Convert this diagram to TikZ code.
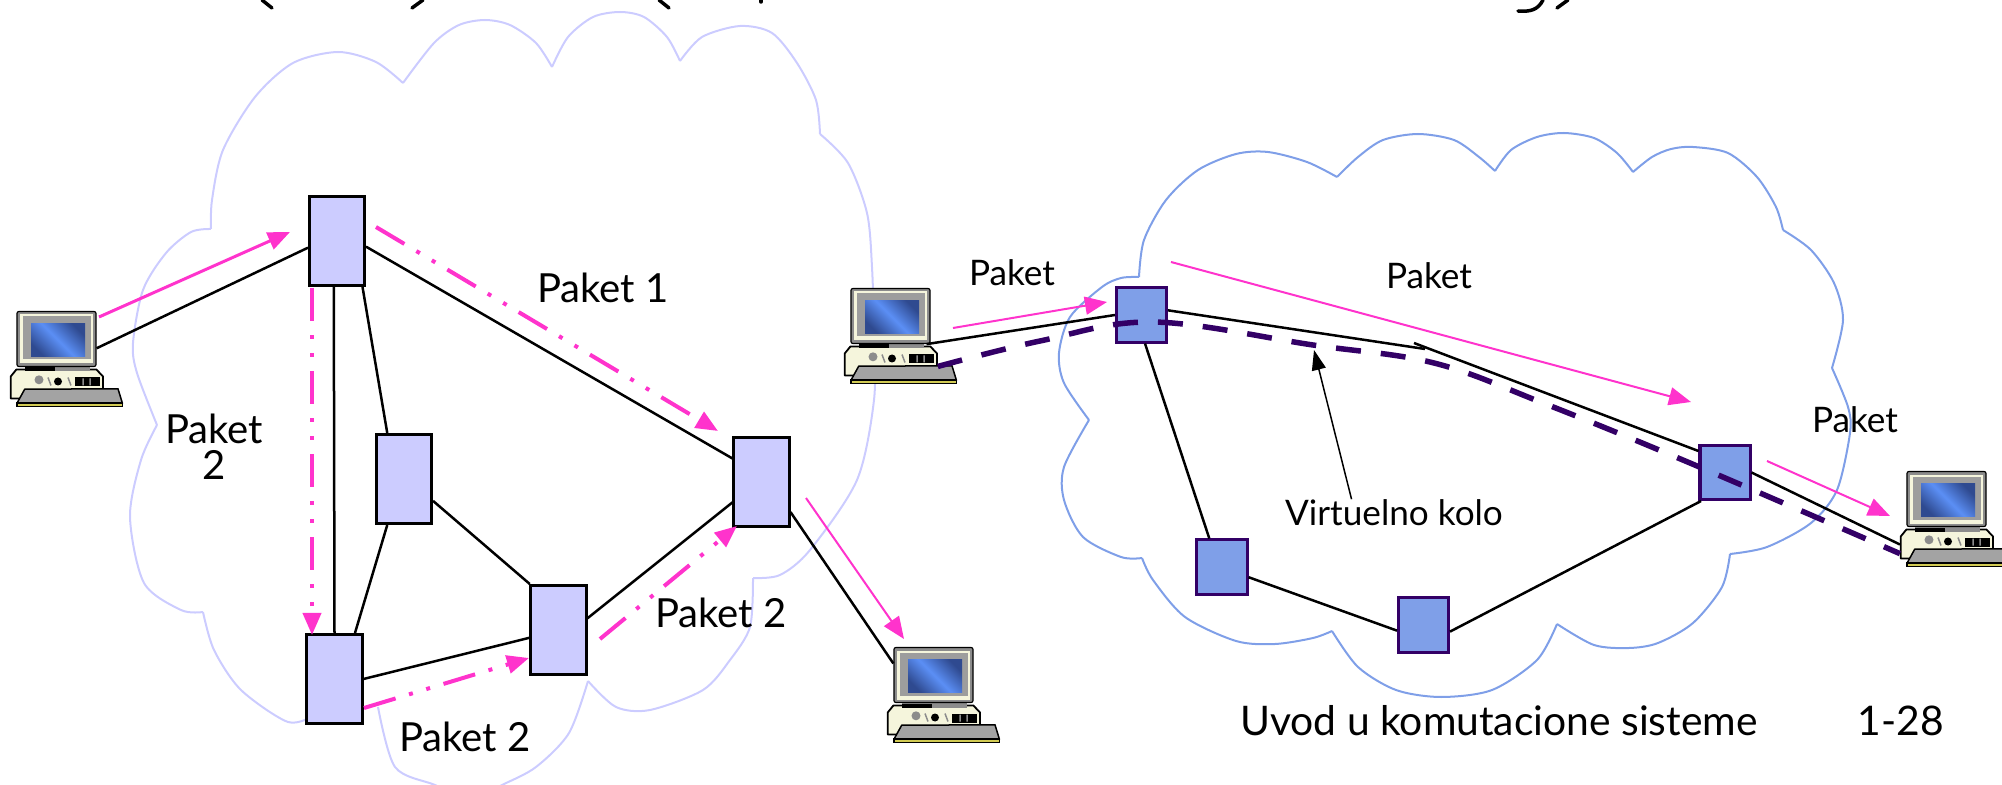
\documentclass[tikz,border=0pt]{standalone}
\usepackage{fontspec}
\setmainfont{Lato}
\usetikzlibrary{arrows.meta}
\definecolor{roze}{HTML}{FF33CC}
\definecolor{ljub}{HTML}{330066}
\definecolor{svetla}{HTML}{CCCCFF}
\definecolor{plava}{HTML}{7F9FE8}
\definecolor{krem}{HTML}{F5F5DC}
\definecolor{tamno}{HTML}{2F4A90}
\definecolor{sjaj}{HTML}{5B8FF5}
\definecolor{siva}{HTML}{8C8C8C}
\tikzset{
  ruter/.style={draw=black,fill=svetla,line width=0.03cm,inner sep=0pt,minimum width=0.55cm,minimum height=0.89cm},
  kvadrat/.style={draw=ljub,fill=plava,line width=0.03cm,inner sep=0pt,minimum width=0.5cm,minimum height=0.54cm},
  veza/.style={black,line width=0.025cm},
  oblak/.style={line width=0.02cm},
  roza/.style={roze,line width=0.03cm,-{Triangle[length=0.22cm,width=0.18cm]}},
  tanka/.style={roza,line width=0.02cm},
  tacke/.style={roza,line width=0.04cm,dash pattern=on 0.33cm off 0.14cm on 0.04cm off 0.14cm on 0.04cm off 0.14cm},
  kolo/.style={ljub,line width=0.055cm,dash pattern=on 0.25cm off 0.2cm},
  tekst/.style={inner sep=0pt,font=\fontsize{10}{12}\selectfont},
  vtekst/.style={inner sep=0pt,font=\fontsize{11.4}{12}\selectfont},
  dtekst/.style={inner sep=0pt,font=\fontsize{11.6}{12}\selectfont},
  naslov/.style={black,line width=0.035cm,line cap=round},
  ekran/.style={draw=black,fill=siva,line width=0.012cm,inner sep=0pt,minimum width=0.79cm,minimum height=0.55cm,rounded corners=0.02cm},
  kutija/.style={inner sep=0pt,minimum width=0.925cm,minimum height=0.3cm}
}
\newcommand{\racunar}[2]{
  \begin{scope}[shift={#2}]
    \draw[fill=krem,line width=0.018cm,line join=round] (-0.6,58) -- (-6.3,65) -- (-6.3,87) -- (86,87) -- (86,65) -- (79.4,58) -- cycle;
    \node[kutija] (#1k) at (39.9,73) {};
    \fill[black] (57.7,66) rectangle (82.7,75);
    \fill[siva] (22,68.3) circle (4.5);
    \fill[black] (41,70) circle (4);
    \draw[siva,line width=0.015cm] (31,66) -- (34,74) (51,66) -- (54,74) (66,67) -- (66,74) (73,67) -- (73,74);
    \fill[siva] (8,55) rectangle (73,60);
    \fill[black] (8,56) rectangle (38,60);
    \draw[fill=siva!80!white,line width=0.015cm,line join=round] (7.7,77.7) -- (101,77.3) -- (105.4,91.7) -- (0,91.7) -- cycle;
    \draw[fill=yellow!60!gray,line width=0.015cm] (0,91.7) rectangle (105.4,95);
    \node[ekran] (#1) at (39.5,27.5) {};
    \fill[krem] (3,3) rectangle (76,52);
    \fill[siva!85!white] (6,5) rectangle (74,48);
    \shade[left color=tamno,right color=tamno,middle color=sjaj,shading angle=135] (14,12) rectangle (68,45);
  \end{scope}
}
\begin{document}
\begin{tikzpicture}[x=0.01cm,y=-0.01cm]

    \useasboundingbox (0,0) rectangle (2002,785);

    \draw[naslov] (262,0) -- (272,8);
    \draw[naslov] (423,0) -- (412,8);
    \draw[naslov] (659,0) -- (669,8);
    \draw[naslov] (761,0) -- (761,2);
    \draw[naslov] (1543,0) .. controls (1538,10) and (1530,12) .. (1518,11);
    \draw[naslov] (1568,0) -- (1557,8);

    \draw[oblak,svetla] plot[smooth] coordinates {(403,83) (376,62) (338,52) (293,63) (255,97) (223,150) (212,200) (211,229)};
    \draw[oblak,svetla] plot[smooth] coordinates {(403,83) (434,43) (459,25) (485,20) (510,25) (536,43) (552,67)};
    \draw[oblak,svetla] plot[smooth] coordinates {(552,67) (568,37) (593,17) (620,12) (644,17) (667,37) (680,61)};
    \draw[oblak,svetla] plot[smooth] coordinates {(680,61) (702,37) (740,26) (772,33) (797,63) (816,100) (820,134)};
    \draw[oblak,svetla] plot[smooth] coordinates {(820,134) (848,163) (867,213) (872,267) (874,333) (874,400) (857,480) (810,550) (780,575) (753,578)};
    \draw[oblak,svetla] plot[smooth] coordinates {(753,578) (750,627) (730,660) (703,690) (650,710) (616,707) (588,681)};
    \draw[oblak,svetla] plot[smooth] coordinates {(588,681) (569,733) (536,767) (502,785) (470,800) (435,785) (395,767) (378,707)};
    \draw[oblak,svetla] plot[smooth] coordinates {(315,715) (288,722) (241,690) (214,650) (203,612)};
    \draw[oblak,svetla] plot[smooth] coordinates {(203,612) (181,610) (144,583) (130,517) (141,460) (157,425)};
    \draw[oblak,svetla] plot[smooth] coordinates {(157,425) (137,373) (133,343) (143,290) (166,253) (191,232) (211,229)};

    \draw[oblak,plava] plot[smooth] coordinates {(1337,177) (1358,157) (1383,140) (1418,134) (1454,140) (1479,157) (1495,171)};
    \draw[oblak,plava] plot[smooth] coordinates {(1495,171) (1511,150) (1537,137) (1564,133) (1594,138) (1617,153) (1633,172)};
    \draw[oblak,plava] plot[smooth] coordinates {(1633,172) (1652,157) (1671,149) (1693,147) (1728,153) (1757,177) (1776,207) (1783,230)};
    \draw[oblak,plava] plot[smooth] coordinates {(1783,230) (1811,250) (1834,283) (1843,320) (1832,368)};
    \draw[oblak,plava] plot[smooth] coordinates {(1832,368) (1848,407) (1850,433) (1837,490) (1811,523) (1767,547) (1730,554)};
    \draw[oblak,plava] plot[smooth] coordinates {(1730,554) (1722,587) (1693,623) (1658,643) (1629,648) (1594,645) (1557,624)};
    \draw[oblak,plava] plot[smooth] coordinates {(1557,624) (1537,660) (1492,690) (1441,697) (1396,690) (1358,667) (1332,631)};
    \draw[oblak,plava] plot[smooth] coordinates {(1332,631) (1313,638) (1275,644) (1236,641) (1185,617) (1153,580) (1142,558)};
    \draw[oblak,plava] plot[smooth] coordinates {(1142,558) (1121,557) (1083,537) (1064,500) (1064,467) (1089,420)};
    \draw[oblak,plava] plot[smooth] coordinates {(1089,420) (1064,383) (1059,353) (1070,317) (1102,287) (1121,278) (1139,277)};
    \draw[oblak,plava] plot[smooth] coordinates {(1139,277) (1144,240) (1166,200) (1198,170) (1236,154) (1268,152) (1307,162) (1337,177)};

    \node[ruter] (R1) at (337,241) {};
    \node[ruter] (R2) at (404,479) {};
    \node[ruter] (R3) at (761.5,482) {};
    \node[ruter] (R4) at (558.5,630) {};
    \node[ruter] (R5) at (334.5,679) {};

    \node[kvadrat] (Q1) at (1141.5,315) {};
    \node[kvadrat] (Q2) at (1725,472.5) {};
    \node[kvadrat] (Q3) at (1222,567) {};
    \node[kvadrat] (Q4) at (1423.5,625) {};

    \racunar{P1}{(17,311.5)}
    \racunar{P2}{(894,647.5)}
    \racunar{P3}{(851,288.5)}
    \racunar{P4}{(1907,471.5)}

    \draw[veza] (P1.-13) -- (R1.193);
    \draw[veza] (R1.-11) -- (R3.141);
    \draw[veza] (R1.266) -- (R5.north);
    \draw[veza] (R1.-61) -- (R2.110);
    \draw[veza] (R2.-110) -- (R5.66);
    \draw[veza] (R2.-37) -- (R4.122);
    \draw[veza] (R5.east) -- (R4.195);
    \draw[veza] (R4.22) -- (R3.215);
    \draw[veza] (R3.-46) -- (P2.164);

    \coordinate (K1) at (1425,349);
    \coordinate (K2) at (1414,343);

    \draw[veza] (P3.-38) -- (Q1.west);
    \draw[veza] (Q1.10) -- (K1);
    \draw[veza] (K2) -- (Q2.141);
    \draw[veza] (Q1.-83) -- (Q3.114);
    \draw[veza] (Q3.-21) -- (Q4.192);
    \draw[veza] (Q4.-14) -- (Q2.230);
    \draw[veza] (Q2.east) -- (P4k.west);

    \draw[kolo] plot[smooth,tension=0.6] coordinates {(P3k.-6) (1040,341) (1153,322) (1313,345) (1434,363) (1543,403) (1690,463) (P4k.191)};

    \coordinate (A1) at (99,317);
    \coordinate (A2) at (290,232);
    \coordinate (B1) at (376,227);
    \coordinate (B2) at (718,431);
    \coordinate (C1) at (312,288);
    \coordinate (C2) at (312,635);
    \coordinate (D1) at (364,708);
    \coordinate (D2) at (529,658);
    \coordinate (E1) at (600,639);
    \coordinate (E2) at (737,526);
    \coordinate (F1) at (806,498);
    \coordinate (F2) at (904,639);
    \coordinate (G1) at (953,328);
    \coordinate (G2) at (1107,302);
    \coordinate (H1) at (1171,262);
    \coordinate (H2) at (1691,402);
    \coordinate (I1) at (1767,461);
    \coordinate (I2) at (1890,516);

    \draw[roza] (A1) -- (A2);
    \draw[tacke] (B1) -- (B2);
    \draw[tacke] (C1) -- (C2);
    \draw[tacke] (D1) -- (D2);
    \draw[tacke] (E1) -- (E2);
    \draw[tanka] (F1) -- (F2);
    \draw[tanka] (G1) -- (G2);
    \draw[tanka] (H1) -- (H2);
    \draw[tanka] (I1) -- (I2);

    \node[vtekst] (T1) at (603,288) {Paket 1};
    \node[vtekst] (T2a) at (214,429) {Paket};
    \node[vtekst] (T2b) at (214,465) {2};
    \node[vtekst] (T3) at (721,613) {Paket 2};
    \node[vtekst] (T4) at (465,737) {Paket 2};
    \node[tekst] (T5) at (1012,273) {Paket};
    \node[tekst] (T6) at (1429,276) {Paket};
    \node[tekst] (T7) at (1855,420) {Paket};
    \node[tekst] (V) at (1394,513) {Virtuelno kolo};
    \node[dtekst] (U) at (1499,721) {Uvod u komutacione sisteme};
    \node[dtekst] (N) at (1901,721) {1-28};

    \coordinate (V1) at (1314,350);
    \draw[black,line width=0.015cm,-{Triangle[length=0.2cm,width=0.14cm]}] (V.162) -- (V1);

\end{tikzpicture}
\end{document}
